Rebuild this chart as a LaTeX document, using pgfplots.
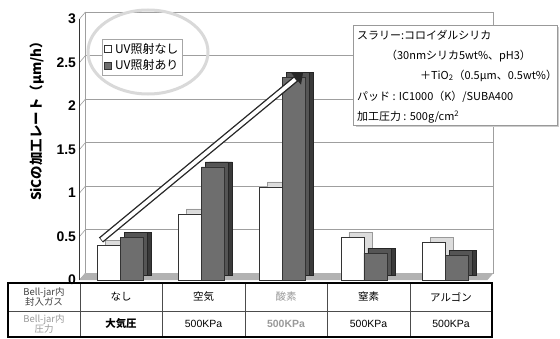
\documentclass[border=0pt]{standalone}
\usepackage{fontspec}
\setmainfont{Noto Sans CJK JP}
\newfontfamily\arialf{Liberation Sans}
\usepackage{pgfplots}
\pgfplotsset{compat=1.18}
\usetikzlibrary{arrows.meta}
\definecolor{darkbar}{HTML}{6E6E6E}
\definecolor{darkside}{HTML}{3A3A3A}
\definecolor{darktop}{HTML}{555555}
\definecolor{lightside}{HTML}{DCDCDC}
\begin{document}
\begin{tikzpicture}[x=1bp,y=1bp]
\path[use as bounding box] (0,0) rectangle (560,338);
% back wall, left wall and floor
\foreach \v in {0,0.5,1,1.5,2,2.5,3} {
  \draw[gray!75, line width=0.6bp] (85.5,{65+87*\v}) -- (493.5,{65+87*\v});
  \draw[gray!75, line width=0.6bp] (79.5,{58+87*\v}) -- (85.5,{65+87*\v});
}
\draw[gray!75, line width=0.6bp] (85.5,65) -- (85.5,326);
\draw[gray!75, line width=0.6bp] (493.5,65) -- (493.5,326);
\fill[gray!60] (79.5,58) -- (487.5,58) -- (493.5,65) -- (85.5,65) -- cycle;
\draw[black!80, line width=0.8bp] (79.5,58) -- (79.5,319);
\begin{axis}[
  at={(79.5bp,58bp)}, anchor=south west, scale only axis,
  width=408bp, height=261bp,
  xmin=-0.5, xmax=4.52, ymin=0, ymax=3,
  axis line style={draw=none},
  xtick=\empty, ytick={0,0.5,1,1.5,2,2.5,3},
  major tick length=0pt, clip=false,
  /pgf/number format/assume math mode=true,
  yticklabel style={font=\arialf\bfseries\fontsize{14}{14}\selectfont},
  legend style={at={(axis description cs:0.055,0.923)}, anchor=north west,
    draw=gray!70, font=\fontsize{12}{13}\selectfont, inner sep=2bp,
    row sep=1bp, cells={anchor=west}},
]
\addplot[ybar, bar width=23bp, bar shift=-11.5bp, xshift=8bp, yshift=5bp,
  fill=lightside, draw=gray!80, line width=0.5bp, forget plot]
  coordinates {(0,0.40) (1,0.76) (2,1.07) (3,0.49) (4,0.43)};
\addplot[ybar, bar width=23bp, bar shift=-11.5bp, fill=white, draw=black!80,
  line width=0.5bp, forget plot]
  coordinates {(0,0.40) (1,0.76) (2,1.07) (3,0.49) (4,0.43)};
\addplot[ybar, bar width=23bp, bar shift=11.5bp, xshift=8bp, yshift=5bp,
  fill=darkside, draw=black!85, line width=0.5bp, forget plot]
  coordinates {(0,0.49) (1,1.30) (2,2.33) (3,0.31) (4,0.28)};
\addplot[ybar, bar width=23bp, bar shift=11.5bp, xshift=4bp, yshift=5bp,
  fill=darktop, draw=black!85, line width=0.5bp, forget plot]
  coordinates {(0,0.49) (1,1.30) (2,2.33) (3,0.31) (4,0.28)};
\addplot[ybar, bar width=23bp, bar shift=11.5bp, fill=darkbar, draw=black!80,
  line width=0.5bp, forget plot]
  coordinates {(0,0.49) (1,1.30) (2,2.33) (3,0.31) (4,0.28)};
\addlegendimage{only marks, mark=square*, mark size=3.5bp, mark options={fill=white, draw=black!80}}
\addlegendentry{\hspace{2bp}UV照射なし}
\addlegendimage{only marks, mark=square*, mark size=3.5bp, mark options={fill=darkbar, draw=black!80}}
\addlegendentry{\hspace{2bp}UV照射あり}
\end{axis}
% arrow
\draw[black!85, line width=6.5bp, -{Triangle[length=9bp, width=15bp]}] (101,98) -- (303,265);
\draw[white, line width=3.8bp, shorten >=10bp, shorten <=0.8bp] (101,98) -- (303,265);
% ellipse
\draw[gray!30, line width=3bp] (148,286) ellipse [x radius=60, y radius=42];
% y label
\node[rotate=90, font=\bfseries\fontsize{13.5}{14}\selectfont] at (37,220) {SiCの加工レート（μm/h）};
% text box
\fill[gray!40] (355.5,211) rectangle (559,311);
\draw[gray!80, fill=white, line width=0.6bp] (353,213) rectangle (557,313);
\begin{scope}[every node/.style={anchor=base west, inner sep=0, font=\fontsize{11}{12}\selectfont}]
\node at (357,299) {スラリー:コロイダルシリカ};
\node at (386,279) {（30nmシリカ5wt\%、pH3）};
\node at (420,259) {＋TiO\textsubscript{2}（0.5μm、0.5wt\%）};
\node at (357,238) {パッド : IC1000（K）/SUBA400};
\node at (357,218) {加工圧力 : 500g/cm\textsuperscript{2}};
\end{scope}
% table
\draw[gray!60!black, line width=0.6bp] (8,27) -- (492,27);
\foreach \x in {80,162,245,327,410} \draw[gray!60!black, line width=0.6bp] (\x,1) -- (\x,55);
\draw[black, line width=1.2bp] (8,1) rectangle (492,55);
\begin{scope}[every node/.style={align=center, inner sep=0}]
\node[font=\fontsize{9.5}{10.5}\selectfont, text=black!75] at (44,41) {Bell-jar内\\封入ガス};
\node[font=\fontsize{9.5}{10.5}\selectfont, text=black!40] at (44,14) {Bell-jar内\\圧力};
\node[font=\fontsize{10.5}{11}\selectfont] at (121,41) {なし};
\node[font=\fontsize{10.5}{11}\selectfont] at (203.5,41) {空気};
\node[font=\fontsize{10.5}{11}\selectfont, text=black!40] at (286,41) {酸素};
\node[font=\fontsize{10.5}{11}\selectfont] at (368.5,41) {窒素};
\node[font=\fontsize{10.5}{11}\selectfont] at (451,41) {アルゴン};
\node[font=\bfseries\fontsize{10.5}{11}\selectfont] at (121,14) {大気圧};
\node[font=\arialf\fontsize{10.5}{11}\selectfont] at (203.5,14) {500KPa};
\node[font=\arialf\bfseries\fontsize{10.5}{11}\selectfont, text=black!40] at (286,14) {500KPa};
\node[font=\arialf\fontsize{10.5}{11}\selectfont] at (368.5,14) {500KPa};
\node[font=\arialf\fontsize{10.5}{11}\selectfont] at (451,14) {500KPa};
\end{scope}
\end{tikzpicture}
\end{document}
